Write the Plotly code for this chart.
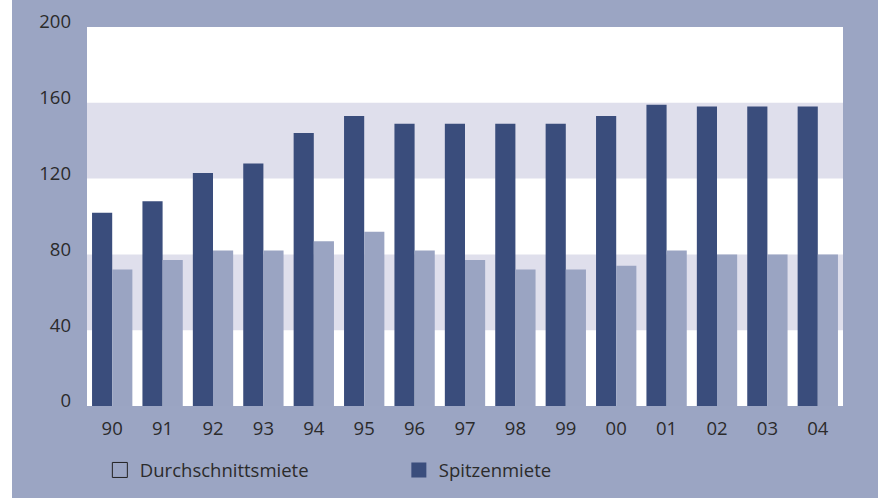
import plotly.graph_objects as go

years = ["90", "91", "92", "93", "94", "95", "96", "97", "98", "99", "00", "01", "02", "03", "04"]
spitzenmiete = [102, 108, 123, 128, 144, 153, 149, 149, 149, 149, 153, 159, 158, 158, 158]
durchschnittsmiete = [72, 77, 82, 82, 87, 92, 82, 77, 72, 72, 74, 82, 80, 80, 80]
y_ticks = [0, 40, 80, 120, 160, 200]
bands = [(40, 80), (120, 160)]

BG = "#9BA5C3"
DARK = "#3A4D7C"
LIGHT = "#9AA4C2"
BAND = "#DFDFEC"
TEXT = "#2B2B2B"
FONT = "Open Sans"

W, H = 878, 499
ML, MR, MT, MB = 87, 35, 27, 93
PW, PH = W - ML - MR, H - MT - MB

fig = go.Figure()
fig.add_trace(go.Bar(x=years, y=spitzenmiete, marker=dict(color=DARK, line=dict(width=0)),
                     showlegend=False, name="Spitzenmiete"))
fig.add_trace(go.Bar(x=years, y=durchschnittsmiete, marker=dict(color=LIGHT, line=dict(width=0)),
                     showlegend=False, name="Durchschnittsmiete"))
# legend entries
fig.add_trace(go.Scatter(x=[None], y=[None], mode="markers", name="Durchschnittsmiete",
                         marker=dict(symbol="square", size=15, color=BG, line=dict(color="#222222", width=1))))
fig.add_trace(go.Scatter(x=[None], y=[None], mode="markers", name="Spitzenmiete",
                         marker=dict(symbol="square", size=15, color=DARK, line=dict(width=0))))

shapes = []
for lo, hi in bands:
    shapes.append(dict(type="rect", xref="paper", yref="y", x0=0, x1=1, y0=lo, y1=hi,
                       fillcolor=BAND, line=dict(width=0), layer="below"))
# white strip at the left edge and bottom edge of the picture
shapes.append(dict(type="rect", xref="paper", yref="paper",
                   x0=(0 - ML) / PW - 0.01, x1=(12 - ML) / PW, y0=-MB / PH - 0.01, y1=1 + MT / PH + 0.01,
                   fillcolor="white", line=dict(width=0), layer="above"))
shapes.append(dict(type="rect", xref="paper", yref="paper",
                   x0=(0 - ML) / PW - 0.01, x1=1 + MR / PW + 0.01, y0=-MB / PH - 0.01,
                   y1=(H - MB - 498) / PH,
                   fillcolor="white", line=dict(width=0), layer="above"))

fig.update_layout(
    width=W, height=H,
    margin=dict(l=ML, r=MR, t=MT, b=MB, pad=0, autoexpand=False),
    paper_bgcolor=BG, plot_bgcolor="white",
    barmode="group", bargap=0.2, bargroupgap=0,
    font=dict(family=FONT, size=18.5, color=TEXT),
    shapes=shapes,
    showlegend=True,
    legend=dict(orientation="h", x=0.017, xanchor="left", y=-0.17, yanchor="middle",
                bgcolor="rgba(0,0,0,0)", font=dict(family=FONT, size=18.5, color=TEXT),
                entrywidth=254, entrywidthmode="pixels", itemsizing="trace"),
    xaxis=dict(type="category", showgrid=False, zeroline=False, showline=False, ticks="",
               automargin=False,
               tickfont=dict(family=FONT, size=18.5, color=TEXT), ticklabelstandoff=9, fixedrange=True),
    yaxis=dict(range=[0, 200], tickvals=y_ticks, showgrid=False, zeroline=False, showline=False,
               automargin=False,
               ticks="", tickfont=dict(family=FONT, size=18.5, color=TEXT), ticklabelstandoff=15,
               ticklabelshift=-5, fixedrange=True),
)

fig.write_html("out.html")
